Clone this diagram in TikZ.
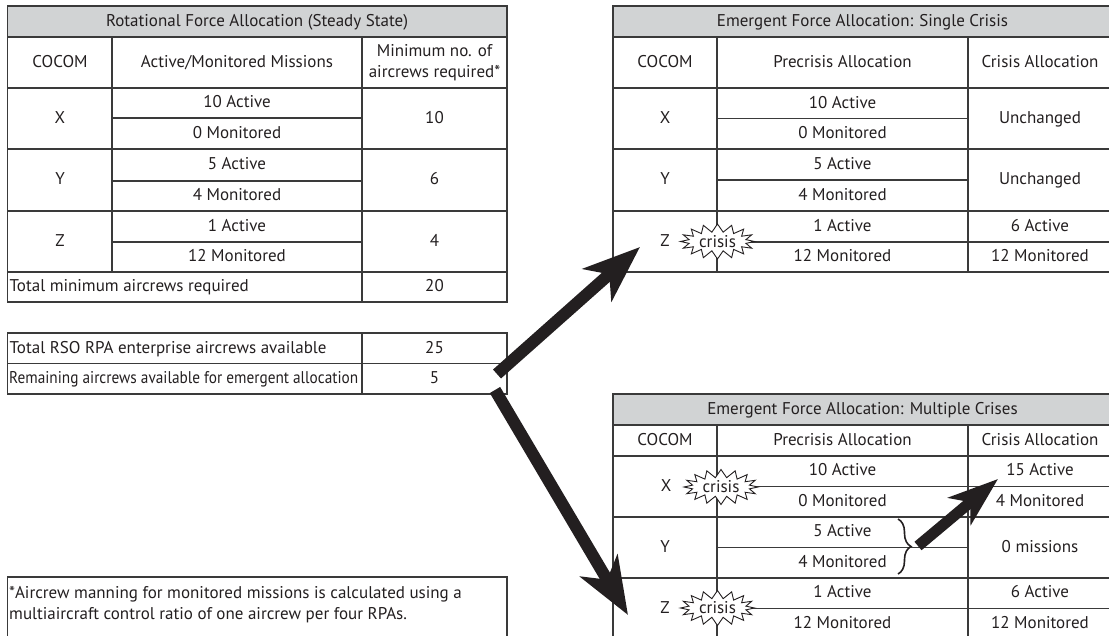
\documentclass[tikz,border=0pt]{standalone}
\usepackage{fontspec}
\setmainfont{PT Sans}
\usetikzlibrary{arrows.meta,shapes.symbols,decorations.pathreplacing}
\definecolor{ink}{HTML}{231F20}
\definecolor{rulec}{HTML}{3A3A3A}
\definecolor{headfill}{HTML}{D1D3D4}
\newcommand{\cellfont}{\fontsize{17}{21}\selectfont}
\begin{document}
\begin{tikzpicture}[x=1pt,y=-1pt,
  tline/.style={draw=rulec,line width=1.2pt},
  cell/.style={text=ink,font=\cellfont,inner sep=0pt,text height=12.5pt,text depth=3pt},
  lcell/.style={cell,anchor=west},
  crisisburst/.style={starburst,starburst points=16,starburst point height=8pt,random starburst=0,
    draw=ink,fill=white,line width=0.9pt,inner sep=0pt,minimum width=74pt,minimum height=35pt,
    font=\cellfont,text=ink},
  fatarrow/.style={draw=ink,line width=12pt,-{Stealth[length=57pt,width=43pt,inset=16pt]}},
  smallarrow/.style={draw=ink,line width=11pt,-{Stealth[length=50pt,width=35pt,inset=14pt]}},
  bracestyle/.style={draw=ink,line width=1.6pt,decorate,decoration={brace,amplitude=13pt}}]
\useasboundingbox (0,0) rectangle (1109,636);

% ---------- Rotational table ----------
\fill[headfill] (7.5,6) rectangle (507,37);
\draw[tline] (7.5,6) rectangle (507,302);
\foreach \yy in {37,88,149,211,272} \draw[tline] (7.5,\yy) -- (507,\yy);
\foreach \yy in {118,181,242} \draw[tline] (112,\yy) -- (362,\yy);
\draw[tline] (112,37) -- (112,272);
\draw[tline] (362,37) -- (362,302);
\node[cell] (rtitle) at (257,21.5) {Rotational Force Allocation (Steady State)};
\node[cell] (rh1) at (60,62.5) {COCOM};
\node[cell] (rh2) at (237,62.5) {Active/Monitored Missions};
\node[cell,align=center,text height=,text depth=] (rh3) at (434.5,63) {Minimum no. of\\aircrews required*};
\node[cell] (rx) at (60,118.5) {X};
\node[cell] (rxa) at (237,103) {10 Active};
\node[cell] (rxm) at (237,133.5) {0 Monitored};
\node[cell] (rxn) at (434.5,118.5) {10};
\node[cell] (ry) at (60,180) {Y};
\node[cell] (rya) at (237,165) {5 Active};
\node[cell] (rym) at (237,196) {4 Monitored};
\node[cell] (ryn) at (434.5,180) {6};
\node[cell] (rz) at (60,241.5) {Z};
\node[cell] (rza) at (237,226.5) {1 Active};
\node[cell] (rzm) at (237,257) {12 Monitored};
\node[cell] (rzn) at (434.5,241.5) {4};
\node[lcell] (rtot) at (9.5,287) {Total minimum aircrews required};
\node[cell] (rtotn) at (434.5,287) {20};

% ---------- Availability table ----------
\draw[tline] (7.5,333) rectangle (507,394);
\draw[tline] (7.5,363.5) -- (507,363.5);
\draw[tline] (362,333) -- (362,394);
\node[lcell] (avail) at (9.5,348.5) {Total RSO RPA enterprise aircrews available};
\node[cell] (availn) at (434.5,348.5) {25};
\node[lcell] (remain) at (9,379) {\resizebox{349pt}{\height}{Remaining aircrews available for emergent allocation}};
\node[cell] (remainn) at (434.5,379) {5};

% ---------- Footnote ----------
\draw[tline] (7.5,640) -- (7.5,577) -- (507,577) -- (507,640);
\node[cell,anchor=north west,align=left,text height=,text depth=] (foot) at (9,586)
  {*Aircrew manning for monitored missions is calculated using a\\multiaircraft control ratio of one aircrew per four RPAs.};

% ---------- Single crisis table ----------
\fill[headfill] (613,6) rectangle (1112,37);
\draw[tline] (613,6) rectangle (1112,272);
\foreach \yy in {37,88,149,211} \draw[tline] (613,\yy) -- (1112,\yy);
\foreach \yy in {118.5,180} \draw[tline] (717,\yy) -- (968,\yy);
\draw[tline] (717,242) -- (1112,242);
\draw[tline] (717,37) -- (717,272);
\draw[tline] (968,37) -- (968,272);
\node[cell] (stitle) at (862.5,21.5) {Emergent Force Allocation: Single Crisis};
\node[cell] (sh1) at (665,62.5) {COCOM};
\node[cell] (sh2) at (842.5,62.5) {Precrisis Allocation};
\node[cell] (sh3) at (1040,62.5) {Crisis Allocation};
\node[cell] (sx) at (665,118.5) {X};
\node[cell] (sxa) at (842.5,103.5) {10 Active};
\node[cell] (sxm) at (842.5,134) {0 Monitored};
\node[cell] (sxc) at (1040,118.5) {Unchanged};
\node[cell] (sy) at (665,180) {Y};
\node[cell] (sya) at (842.5,165) {5 Active};
\node[cell] (sym) at (842.5,196) {4 Monitored};
\node[cell] (syc) at (1040,180) {Unchanged};
\node[cell] (sz) at (665,242) {Z};
\node[cell] (sza) at (842.5,226.5) {1 Active};
\node[cell] (szm) at (842.5,257) {12 Monitored};
\node[cell] (szca) at (1040,226.5) {6 Active};
\node[cell] (szcm) at (1040,257) {12 Monitored};
\node[crisisburst] (scrisis) at (717.5,241.5) {crisis};

% ---------- Multiple crises table ----------
\fill[headfill] (613,394) rectangle (1112,425);
\draw[tline] (613,640) -- (613,394) -- (1112,394);
\foreach \yy in {425,456,517,578,639} \draw[tline] (613,\yy) -- (1112,\yy);
\draw[tline] (717,486.5) -- (1112,486.5);
\draw[tline] (717,547.5) -- (968,547.5);
\draw[tline] (717,608.5) -- (1112,608.5);
\draw[tline] (717,425) -- (717,640);
\draw[tline] (968,425) -- (968,640);
\node[cell] (mtitle) at (862.5,409.5) {Emergent Force Allocation: Multiple Crises};
\node[cell] (mh1) at (665,440.5) {COCOM};
\node[cell] (mh2) at (842.5,440.5) {Precrisis Allocation};
\node[cell] (mh3) at (1040,440.5) {Crisis Allocation};
\node[cell] (mx) at (666,487) {X};
\node[cell] (mxa) at (842.5,471) {10 Active};
\node[cell] (mxm) at (842.5,502) {0 Monitored};
\node[cell] (mxca) at (1040,471) {15 Active};
\node[cell] (mxcm) at (1040,502) {4 Monitored};
\node[cell] (my) at (665,547.5) {Y};
\node[cell] (mya) at (842.5,532) {5 Active};
\node[cell] (mym) at (842.5,563) {4 Monitored};
\node[cell] (myc) at (1040,547.5) {0 missions};
\node[cell] (mz) at (665,608.5) {Z};
\node[cell] (mza) at (842.5,593) {1 Active};
\node[cell] (mzm) at (842.5,624) {12 Monitored};
\node[cell] (mzca) at (1040,593) {6 Active};
\node[cell] (mzcm) at (1040,624) {12 Monitored};
\node[crisisburst] (mxcrisis) at (721,487) {crisis};
\node[crisisburst] (mzcrisis) at (717.5,608) {crisis};

% ---------- Connectors ----------
\coordinate (a1s) at (497,374);
\coordinate (a1e) at (640,247);
\coordinate (a2s) at (495,390);
\coordinate (a2e) at (628,615);
\coordinate (bt) at (898,519);
\coordinate (bb) at (898,574);
\coordinate (a3s) at (918,546);
\coordinate (a3e) at (998,479);
\draw[fatarrow] (a1s) -- (a1e);
\draw[fatarrow] (a2s) -- (a2e);
\draw[bracestyle] (bt) -- (bb);
\draw[smallarrow] (a3s) -- (a3e);
\end{tikzpicture}
\end{document}
